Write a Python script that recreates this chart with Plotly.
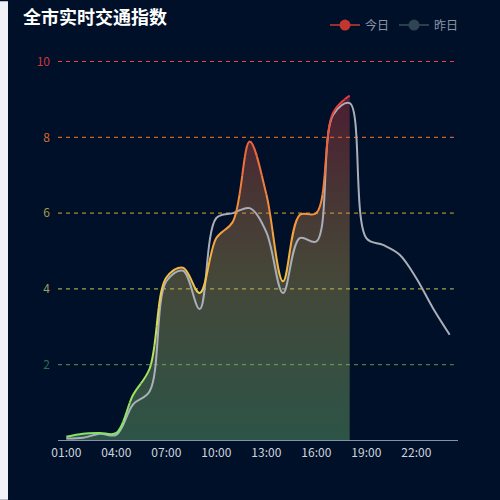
import plotly.graph_objects as go
from plotly.colors import sample_colorscale

# hourly categories
hours = list(range(1, 25))
hour_labels = [f"{h:02d}:00" for h in hours]
shown_hours = [1, 4, 7, 10, 13, 16, 19, 22]

# traffic index
today = [0.1, 0.18, 0.2, 0.2, 1.2, 1.9, 4.3, 4.56, 3.89, 5.34, 5.78, 7.89,
         6.5, 4.2, 5.95, 6.0, 8.64, 9.1]
yesterday = [0.05, 0.07, 0.18, 0.15, 0.95, 1.3, 4.2, 4.48, 3.47, 5.87, 6.0, 6.13,
             5.5, 3.89, 5.34, 5.25, 8.59, 8.9, 5.34, 5.16, 4.9, 4.28, 3.49, 2.79]

# y levels and their colours
levels = [0, 2, 4, 6, 8, 10]
level_label_colors = ["#ffffff", "#2f6e50", "#98a060", "#a89848", "#d86a30", "#d0343c"]
level_grid_colors = [None, "#4c9a52", "#c8c850", "#d8aa30", "#ff7a30", "#ff3a3a"]

BG = "#001029"
FONT = "Noto Sans CJK SC"
Y_MAX = 10
PLOT_H = 380
X_RANGE = [0.5, 24.5]
# nudge the range by half a pixel so the 1px dashed lines stay crisp
Y0 = 0.5 * Y_MAX / PLOT_H
Y_RANGE = [Y0, Y_MAX + Y0]

line_scale = [[0.0, "#7ee36a"], [0.25, "#b9e35e"], [0.35, "#e6d452"], [0.45, "#f5b842"],
              [0.6, "#f5923c"], [0.75, "#f06a3a"], [0.9, "#e8383d"], [1.0, "#e8303a"]]
fill_scale = [[0.0, "rgba(126,210,126,0.35)"], [0.5, "rgba(200,170,83,0.35)"],
              [1.0, "rgba(214,56,63,0.35)"]]

fig = go.Figure()

# dashed level lines
for lv, col in zip(levels, level_grid_colors):
    if col is None:
        continue
    fig.add_trace(go.Scatter(
        x=[X_RANGE[0], X_RANGE[1] - 0.25], y=[lv, lv], mode="lines",
        line=dict(color=col, width=1, dash="4px,4px"),
        showlegend=False, hoverinfo="skip",
    ))

# area under today's curve
fig.add_trace(go.Scatter(
    x=hours[:len(today)], y=today, mode="lines", line=dict(width=0, shape="spline"),
    fill="tozeroy", fillgradient=dict(type="vertical", colorscale=fill_scale),
    showlegend=False, hoverinfo="skip",
))

# today's line, drawn in horizontal bands so the colour follows the value
band_step = 0.5
n_bands = int(Y_MAX / band_step)
band_colors = sample_colorscale(line_scale, [(i + 0.5) / n_bands for i in range(n_bands)])
span = Y_RANGE[1] - Y_RANGE[0]
axes = {}
for i in range(n_bands):
    lo, hi = i * band_step, (i + 1) * band_step
    d0 = max(0.0, (lo - Y_RANGE[0]) / span)
    d1 = min(1.0, (hi - Y_RANGE[0]) / span)
    axes[f"yaxis{i + 2}"] = dict(domain=[d0, d1],
                                 range=[Y_RANGE[0] + d0 * span, Y_RANGE[0] + d1 * span],
                                 anchor="x", visible=False, fixedrange=True)
    fig.add_trace(go.Scatter(
        x=hours[:len(today)], y=today, yaxis=f"y{i + 2}", mode="lines",
        line=dict(color=band_colors[i], width=2, shape="spline"),
        showlegend=False, hoverinfo="skip",
    ))

fig.add_trace(go.Scatter(
    x=hours, y=yesterday, mode="lines",
    line=dict(color="#a9aeb8", width=2, shape="spline"),
    showlegend=False,
))

# legend entries (echarts default palette colours)
fig.add_trace(go.Scatter(x=[None], y=[None], mode="lines+markers", name="今日",
                         line=dict(color="#96302e", width=2),
                         marker=dict(color="#c23531", size=11)))
fig.add_trace(go.Scatter(x=[None], y=[None], mode="lines+markers", name="昨日",
                         line=dict(color="#2a3f4e", width=2),
                         marker=dict(color="#2f4554", size=11)))

# light strip on the left edge of the page
fig.add_shape(type="rect", xref="paper", x0=-58 / 400, x1=-50 / 400,
              yref="paper", y0=-60 / PLOT_H, y1=1 + 60 / PLOT_H,
              fillcolor="#f0f2f7", line_width=0, layer="above")

fig.update_layout(
    width=500, height=500,
    margin=dict(l=58, r=42, t=60, b=60),
    paper_bgcolor=BG, plot_bgcolor="rgba(0,0,0,0)",
    font=dict(family=FONT, size=12, color="#d0d4dc"),
    title=dict(text="<b>全市实时交通指数</b>", x=0.046, xref="container", xanchor="left",
               y=0.964, yref="container", yanchor="middle",
               font=dict(size=18, color="#ffffff", family=FONT)),
    legend=dict(orientation="h", x=0.6675, xanchor="left", y=1.092, yanchor="middle",
                font=dict(size=12, color="#8d95a8"), bgcolor="rgba(0,0,0,0)"),
    xaxis=dict(range=X_RANGE, tickvals=shown_hours,
               ticktext=[hour_labels[h - 1] for h in shown_hours],
               showgrid=False, zeroline=False, showline=True, linecolor="#8392aa",
               linewidth=1, ticks="", tickfont=dict(size=12, color="#d0d4dc"),
               ticklabelstandoff=2, fixedrange=True),
    yaxis=dict(range=Y_RANGE, tickvals=levels,
               ticktext=[f"<span style='color:{c}'>{v}</span>"
                         for v, c in zip(levels, level_label_colors)],
               showgrid=False, zeroline=False, showline=False, ticks="",
               tickfont=dict(size=12), ticklabelstandoff=7, fixedrange=True),
    **axes,
)

fig.write_html("out.html", config={"displayModeBar": False}, post_script=(
    "document.body.style.margin='0';"
    "document.body.style.overflow='hidden';"
    "document.body.style.background='#f0f2f7';"
))
